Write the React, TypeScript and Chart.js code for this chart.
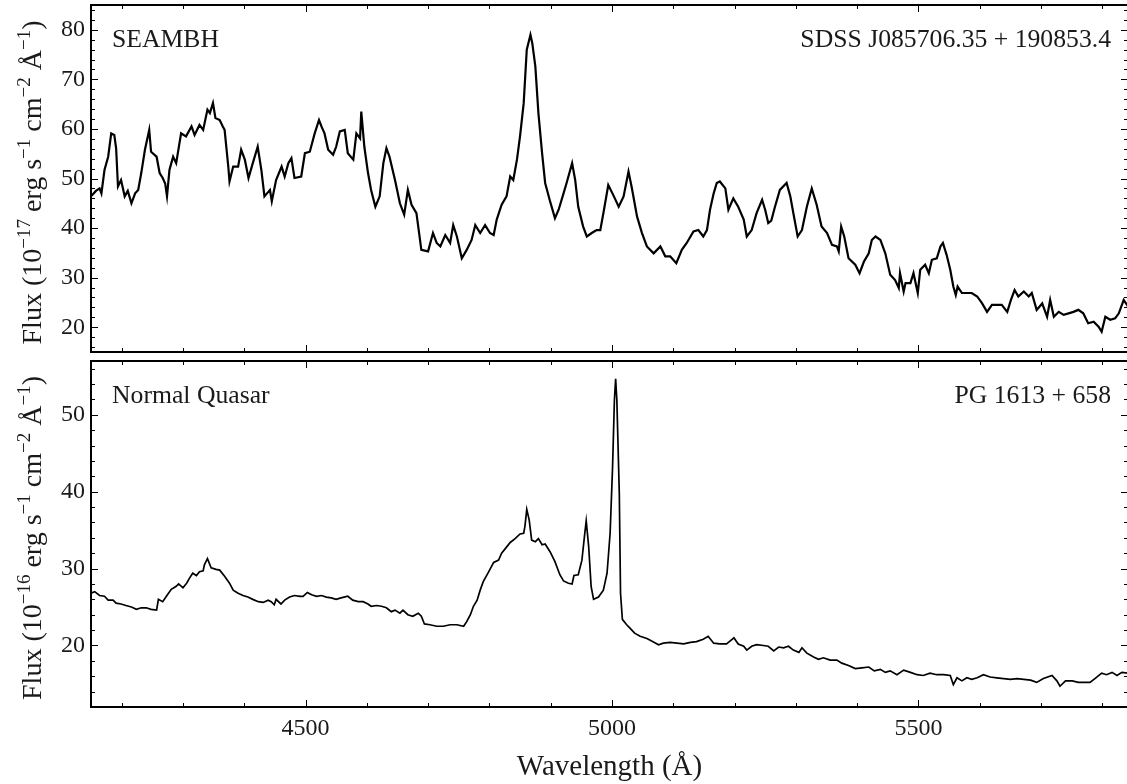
import React, { useEffect, useRef } from "react";
import { Chart, registerables } from "chart.js";

Chart.register(...registerables);

const FONT = '"Liberation Serif", "Times New Roman", serif';

// ---------- data ----------
const topWave = [
  4150, 4158, 4164, 4167, 4172, 4178, 4183, 4188, 4191, 4194, 4199, 4205, 4210, 4216, 4222, 4227,
  4232, 4238, 4245, 4248, 4257, 4262, 4267, 4271, 4274, 4278, 4284, 4289, 4297, 4305, 4314, 4319,
  4327, 4333, 4340, 4344, 4349, 4353, 4360, 4365, 4368, 4374, 4376, 4382, 4390, 4395, 4401, 4407,
  4414, 4422, 4428, 4433, 4442, 4445, 4452, 4461, 4466, 4472, 4477, 4482, 4493, 4499, 4507, 4515,
  4522, 4526, 4531, 4537, 4545, 4550, 4556, 4564, 4569, 4578, 4583, 4589, 4591, 4596, 4602, 4607,
  4614, 4621, 4627, 4632, 4637, 4646, 4654, 4661, 4667, 4673, 4681, 4689, 4700, 4708, 4714, 4720,
  4728, 4736, 4741, 4747, 4755, 4763, 4771, 4777, 4785, 4793, 4801, 4807, 4812, 4820, 4828, 4834,
  4839, 4845, 4850, 4856, 4861, 4867, 4870, 4875, 4880, 4886, 4891, 4899, 4907, 4913, 4921, 4926,
  4935, 4940, 4945, 4953, 4959, 4967, 4975, 4981, 4986, 4994, 5002, 5011, 5019, 5027, 5032, 5041,
  5049, 5057, 5068, 5079, 5087, 5095, 5105, 5114, 5122, 5133, 5141, 5149, 5155, 5160, 5166, 5171,
  5176, 5185, 5190, 5198, 5206, 5215, 5220, 5228, 5236, 5245, 5250, 5255, 5260, 5266, 5274, 5285,
  5291, 5296, 5303, 5310, 5318, 5326, 5334, 5342, 5351, 5359, 5367, 5370, 5374, 5379, 5386, 5397,
  5404, 5411, 5419, 5424, 5430, 5438, 5446, 5454, 5462, 5468, 5470, 5476, 5479, 5487, 5492, 5499,
  5503, 5511, 5517, 5522, 5530, 5536, 5540, 5546, 5552, 5557, 5561, 5564, 5571, 5579, 5587, 5596,
  5604, 5612, 5620, 5628, 5636, 5645, 5651, 5657, 5663, 5672, 5680, 5685, 5693, 5702, 5710, 5715,
  5721, 5729, 5737, 5745, 5753, 5761, 5769, 5777, 5786, 5794, 5799, 5805, 5813, 5821, 5827, 5835,
  5842,
];
const topFlux = [
  46.4, 47.5, 48.0, 47.0, 51.7, 54.4, 59.1, 58.8, 56.1, 48.4, 49.7, 46.4, 47.5, 45.0, 47.0, 47.7,
  51.1, 55.8, 59.8, 55.4, 54.4, 51.1, 50.1, 49.0, 46.4, 51.7, 54.4, 53.1, 59.1, 58.5, 60.5, 58.8,
  60.8, 59.8, 63.9, 63.2, 65.2, 62.2, 61.8, 60.5, 59.8, 52.4, 49.4, 52.4, 52.4, 55.8, 53.8, 50.1,
  53.1, 56.4, 51.7, 46.4, 47.7, 45.4, 49.7, 52.4, 50.4, 53.1, 54.1, 50.1, 50.4, 55.1, 55.4, 59.1,
  61.8, 60.5, 59.1, 55.8, 54.8, 56.4, 59.5, 59.8, 55.1, 53.8, 59.1, 58.1, 63.5, 56.4, 51.1, 47.7,
  44.3, 46.4, 53.1, 56.1, 54.4, 49.7, 45.0, 42.7, 47.7, 44.7, 43.0, 35.6, 35.3, 39.0, 37.0, 36.3,
  38.6, 37.0, 40.6, 38.3, 33.9, 35.6, 37.6, 40.6, 39.0, 40.6, 39.0, 38.6, 41.7, 44.7, 46.4, 50.4,
  49.7, 53.8, 58.5, 65.2, 76.0, 79.0, 77.3, 72.6, 63.2, 55.1, 49.1, 45.4, 42.0, 43.7, 47.0, 49.1,
  53.1, 49.7, 44.3, 40.3, 38.3, 39.0, 39.6, 39.6, 43.0, 48.7, 46.7, 44.3, 46.4, 51.4, 48.4, 42.3,
  39.0, 36.3, 34.9, 36.3, 34.3, 34.3, 32.9, 35.6, 37.0, 39.3, 39.6, 38.3, 39.6, 43.7, 47.0, 49.1,
  49.4, 48.0, 43.7, 46.0, 44.3, 41.7, 38.3, 39.6, 43.0, 45.7, 43.7, 41.0, 41.5, 44.3, 47.7, 49.1,
  46.4, 43.0, 38.3, 39.6, 44.3, 48.0, 44.7, 40.3, 39.0, 36.6, 36.3, 35.3, 40.3, 38.3, 33.9, 32.6,
  30.9, 33.2, 34.9, 37.6, 38.3, 37.6, 34.9, 30.6, 29.5, 27.9, 30.9, 27.2, 28.9, 28.9, 30.9, 26.9,
  31.6, 32.6, 30.9, 33.6, 33.9, 36.3, 37.0, 34.6, 31.6, 28.2, 26.5, 28.2, 26.9, 26.9, 26.9, 26.2,
  24.8, 23.1, 24.5, 24.5, 24.5, 23.1, 25.5, 27.5, 26.2, 27.2, 26.2, 26.9, 23.5, 24.8, 22.1, 25.5,
  22.1, 23.1, 22.5, 22.8, 23.1, 23.5, 22.8, 20.8, 21.1, 20.1, 19.1, 22.1, 21.5, 21.8, 22.8, 25.5,
  24.2,
];

const botWave = [
  4150, 4156, 4164, 4172, 4178, 4186, 4191, 4199, 4207, 4216, 4224, 4232, 4240, 4248, 4257, 4260,
  4267, 4273, 4281, 4289, 4293, 4300, 4306, 4311, 4316, 4322, 4327, 4333, 4335, 4340, 4344, 4346,
  4354, 4360, 4368, 4376, 4382, 4390, 4398, 4406, 4414, 4423, 4431, 4439, 4444, 4449, 4452, 4460,
  4466, 4474, 4482, 4491, 4496, 4503, 4510, 4518, 4526, 4534, 4542, 4550, 4558, 4569, 4577, 4586,
  4594, 4602, 4607, 4616, 4624, 4632, 4640, 4646, 4654, 4659, 4667, 4675, 4684, 4689, 4694, 4703,
  4714, 4725, 4736, 4747, 4758, 4763, 4769, 4774, 4780, 4785, 4790, 4799, 4807, 4815, 4820, 4826,
  4834, 4842, 4850, 4856, 4858, 4861, 4865, 4869, 4875, 4880, 4886, 4891, 4899, 4907, 4915, 4921,
  4929, 4935, 4938, 4945, 4951, 4955, 4958, 4962, 4966, 4970, 4978, 4986, 4992, 4997, 5001, 5004,
  5006, 5008, 5012, 5014, 5017, 5024, 5029, 5037, 5046, 5057, 5067, 5076, 5084, 5095, 5106, 5117,
  5128, 5138, 5149, 5157, 5166, 5176, 5187, 5196, 5199, 5206, 5215, 5220, 5228, 5236, 5247, 5255,
  5264, 5272, 5280, 5288, 5296, 5305, 5310, 5318, 5329, 5337, 5345, 5356, 5367, 5375, 5386, 5397,
  5408, 5419, 5428, 5438, 5446, 5454, 5465, 5476, 5487, 5498, 5508, 5519, 5530, 5541, 5552, 5557,
  5563, 5571, 5579, 5587, 5596, 5606, 5617, 5628, 5639, 5650, 5661, 5672, 5683, 5693, 5704, 5718,
  5726, 5731, 5740, 5751, 5761, 5772, 5780, 5788, 5799, 5807, 5816, 5824, 5832, 5842,
];
const botFlux = [
  26.8, 27.0, 26.5, 26.4, 25.9, 25.9, 25.5, 25.4, 25.2, 25.0, 24.7, 24.9, 24.9, 24.7, 24.6, 26.0,
  25.7, 26.4, 27.3, 27.7, 28.0, 27.5, 28.1, 28.8, 29.4, 29.1, 29.6, 29.7, 30.5, 31.3, 30.5, 30.1,
  29.9, 29.8, 29.0, 28.1, 27.2, 26.8, 26.5, 26.3, 26.0, 25.7, 25.6, 25.9, 25.7, 25.3, 26.0, 25.4,
  25.9, 26.3, 26.5, 26.4, 26.4, 26.9, 26.6, 26.4, 26.5, 26.3, 26.2, 26.0, 26.2, 26.4, 25.9, 25.7,
  25.7, 25.4, 25.1, 25.2, 25.1, 24.9, 24.4, 24.6, 24.2, 24.6, 24.0, 23.8, 24.2, 23.8, 22.8, 22.7,
  22.5, 22.5, 22.7, 22.7, 22.5, 23.1, 24.0, 25.1, 25.9, 27.2, 28.3, 29.6, 30.8, 31.1, 32.0, 32.6,
  33.4, 33.9, 34.5, 34.6, 35.5, 37.7, 36.3, 33.7, 33.5, 33.9, 33.1, 33.2, 32.2, 30.9, 29.2, 28.4,
  28.1, 28.0, 29.1, 29.2, 31.1, 34.1, 36.2, 32.9, 27.7, 26.0, 26.3, 27.2, 29.4, 34.6, 43.2, 51.9,
  54.7, 51.9, 39.8, 26.8, 23.4, 22.7, 22.3, 21.6, 21.2, 20.9, 20.5, 20.1, 20.3, 20.4, 20.3, 20.2,
  20.4, 20.5, 20.8, 21.2, 20.3, 20.2, 20.2, 20.8, 21.0, 20.2, 19.9, 19.4, 19.9, 20.1, 20.0, 19.9,
  19.3, 19.8, 19.7, 19.9, 19.4, 19.1, 19.7, 19.0, 18.5, 18.2, 18.4, 18.1, 18.1, 17.7, 17.4, 17.0,
  17.1, 17.2, 16.7, 16.9, 16.5, 16.7, 16.2, 16.8, 16.5, 16.2, 16.1, 16.4, 16.2, 16.2, 16.1, 14.9,
  15.8, 15.4, 15.8, 15.6, 15.8, 16.2, 15.9, 15.8, 15.7, 15.6, 15.7, 15.6, 15.5, 15.2, 15.7, 16.1,
  15.4, 14.7, 15.4, 15.4, 15.2, 15.2, 15.2, 15.7, 16.4, 16.2, 16.5, 16.1, 16.5, 16.4,
];

const xRange = [4150, 5842];
const xTickValues = [4500, 5000, 5500];
const topYRange = [15, 85];
const topYTicks = [20, 30, 40, 50, 60, 70, 80];
const botYRange = [12, 57];
const botYTicks = [20, 30, 40, 50];

const topLabels = ["SEAMBH", "SDSS J085706.35 + 190853.4"];
const botLabels = ["Normal Quasar", "PG 1613 + 658"];
const topYTitle: [string, boolean][] = [
  ["Flux (10", false], ["\u221217", true], [" erg s", false], ["\u22121", true],
  [" cm", false], ["\u22122", true], [" \u00C5", false], ["\u22121", true], [")", false],
];
const botYTitle: [string, boolean][] = [
  ["Flux (10", false], ["\u221216", true], [" erg s", false], ["\u22121", true],
  [" cm", false], ["\u22122", true], [" \u00C5", false], ["\u22121", true], [")", false],
];
const xTitle = "Wavelength (\u00C5)";

// ---------- drawing helpers ----------
type PanelOpts = {
  labels: string[];
  yTitle: [string, boolean][];
  xTitle?: string;
};

function panelPlugin(opts: PanelOpts) {
  return {
    id: "panelDecor",
    afterDraw(chart: any) {
      const { ctx, chartArea: a, scales } = chart;
      const xs = scales.x;
      const ys = scales.y;
      ctx.save();
      // minor / major ticks (inward, all four sides)
      ctx.strokeStyle = "#000";
      ctx.lineWidth = 1;
      for (let v = Math.ceil(xs.min / 100) * 100; v <= xs.max; v += 100) {
        const px = Math.round(xs.getPixelForValue(v)) + 0.5;
        const len = v % 500 === 0 ? 7 : 4;
        ctx.beginPath();
        ctx.moveTo(px, a.bottom);
        ctx.lineTo(px, a.bottom - len);
        ctx.moveTo(px, a.top);
        ctx.lineTo(px, a.top + len);
        ctx.stroke();
      }
      for (let v = Math.ceil(ys.min / 2) * 2; v <= ys.max; v += 2) {
        const py = Math.round(ys.getPixelForValue(v)) + 0.5;
        const len = v % 10 === 0 ? 7 : 4;
        ctx.beginPath();
        ctx.moveTo(a.left, py);
        ctx.lineTo(a.left + len, py);
        ctx.moveTo(a.right, py);
        ctx.lineTo(a.right - len, py);
        ctx.stroke();
      }
      // spines
      ctx.lineWidth = 2;
      ctx.strokeRect(a.left, a.top, a.right - a.left, a.bottom - a.top);

      // panel labels
      ctx.fillStyle = "#1a1a1a";
      ctx.font = `25.7px ${FONT}`;
      ctx.textBaseline = "alphabetic";
      ctx.textAlign = "left";
      ctx.fillText(opts.labels[0], a.left + 21, a.top + 42);
      ctx.textAlign = "right";
      ctx.fillText(opts.labels[1], 1111, a.top + 42);

      // y title with superscripts
      const mainF = `28px ${FONT}`;
      const supF = `19px ${FONT}`;
      let total = 0;
      const widths = opts.yTitle.map(([t, sup]) => {
        ctx.font = sup ? supF : mainF;
        const w = ctx.measureText(t).width;
        total += w;
        return w;
      });
      ctx.translate(41, (a.top + a.bottom) / 2 + 4);
      ctx.rotate(-Math.PI / 2);
      ctx.textAlign = "left";
      let x = -total / 2;
      opts.yTitle.forEach(([t, sup], i) => {
        ctx.font = sup ? supF : mainF;
        ctx.fillText(t, x, sup ? -11 : 0);
        x += widths[i];
      });
      ctx.setTransform(1, 0, 0, 1, 0, 0);

      if (opts.xTitle) {
        ctx.font = `29px ${FONT}`;
        ctx.textAlign = "center";
        ctx.fillText(opts.xTitle, (a.left + a.right) / 2, a.bottom + 68);
      }
      ctx.restore();
    },
  };
}

function makeConfig(
  wave: number[],
  flux: number[],
  yRange: number[],
  yTicks: number[],
  showX: boolean,
  lineWidth: number,
  opts: PanelOpts
): any {
  return {
    type: "line",
    data: {
      datasets: [
        {
          data: wave.map((w, i) => ({ x: w, y: flux[i] })),
          borderColor: "#000",
          borderWidth: lineWidth,
          pointRadius: 0,
          tension: 0,
          fill: false,
        },
      ],
    },
    options: {
      animation: false,
      responsive: false,
      events: [],
      layout: { padding: { top: 5, left: 0, right: 2, bottom: showX ? 0 : 4 } },
      plugins: { legend: { display: false }, tooltip: { enabled: false }, title: { display: false } },
      scales: {
        x: {
          type: "linear",
          display: showX,
          min: xRange[0],
          max: xRange[1],
          grid: { display: false, drawTicks: false },
          border: { display: false },
          afterBuildTicks: (s: any) => {
            s.ticks = xTickValues.map((v) => ({ value: v }));
          },
          afterFit: (s: any) => {
            s.height = showX ? 77 : 0;
            s.paddingLeft = 0;
            s.paddingRight = 0;
          },
          ticks: {
            color: "#1a1a1a",
            font: { family: FONT, size: 24 },
            padding: 7,
            maxRotation: 0,
            autoSkip: false,
            callback: (v: any) => String(v),
          },
        },
        y: {
          type: "linear",
          min: yRange[0],
          max: yRange[1],
          grid: { display: false, drawTicks: false },
          border: { display: false },
          afterBuildTicks: (s: any) => {
            s.ticks = yTicks.map((v) => ({ value: v }));
          },
          afterFit: (s: any) => {
            s.width = 91;
            s.paddingTop = 0;
            s.paddingBottom = 0;
          },
          ticks: {
            color: "#1a1a1a",
            font: { family: FONT, size: 24 },
            padding: 6,
            autoSkip: false,
            callback: (v: any) => String(v),
          },
        },
      },
    },
    plugins: [panelPlugin(opts)],
  };
}

export default function App() {
  const topRef = useRef<HTMLCanvasElement | null>(null);
  const botRef = useRef<HTMLCanvasElement | null>(null);

  useEffect(() => {
    document.body.style.margin = "0";
    const c1 = new Chart(
      topRef.current as HTMLCanvasElement,
      makeConfig(topWave, topFlux, topYRange, topYTicks, false, 2.2, {
        labels: topLabels,
        yTitle: topYTitle,
      })
    );
    const c2 = new Chart(
      botRef.current as HTMLCanvasElement,
      makeConfig(botWave, botFlux, botYRange, botYTicks, true, 1.7, {
        labels: botLabels,
        yTitle: botYTitle,
        xTitle: xTitle,
      })
    );
    return () => {
      c1.destroy();
      c2.destroy();
    };
  }, []);

  return (
    <div
      style={{
        position: "fixed",
        left: 0,
        top: 0,
        width: 1127,
        height: 784,
        overflow: "hidden",
        background: "#fff",
      }}
    >
      <canvas
        ref={topRef}
        width={1130}
        height={356}
        style={{ position: "absolute", left: 0, top: 0, width: 1130, height: 356, display: "block" }}
      />
      <canvas
        ref={botRef}
        width={1130}
        height={428}
        style={{ position: "absolute", left: 0, top: 356, width: 1130, height: 428, display: "block" }}
      />
    </div>
  );
}
